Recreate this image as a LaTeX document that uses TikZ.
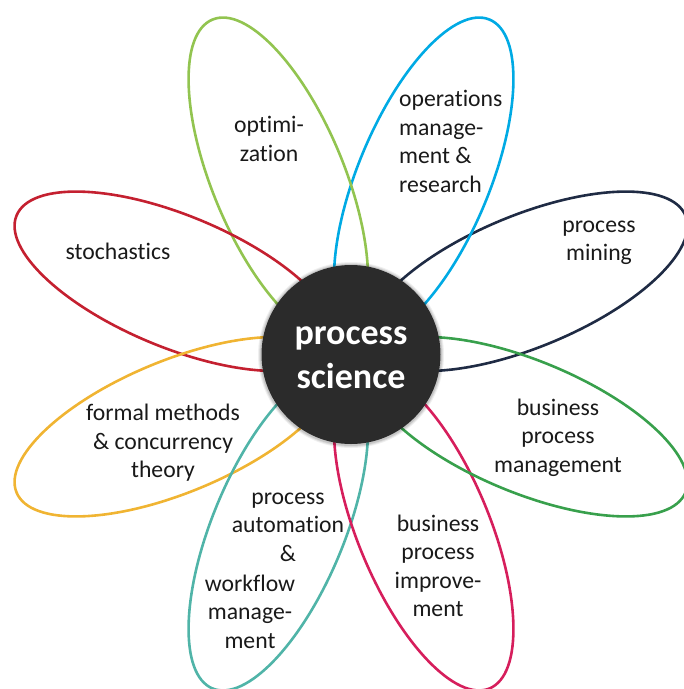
\documentclass[tikz,border=0pt]{standalone}
\usepackage{fontspec}
\setmainfont{Carlito}[Ligatures={NoCommon,NoContextual}]
\definecolor{navyc}{RGB}{31,43,68}
\definecolor{bluec}{RGB}{0,170,228}
\definecolor{greenl}{RGB}{146,196,80}
\definecolor{redc}{RGB}{196,32,48}
\definecolor{yellowc}{RGB}{240,180,50}
\definecolor{tealc}{RGB}{80,180,168}
\definecolor{crimc}{RGB}{214,30,92}
\definecolor{greend}{RGB}{56,160,76}
\definecolor{corec}{RGB}{43,43,43}
\begin{document}
\begin{tikzpicture}[x=1pt,y=-1pt,
  petal/.style={line width=2.6pt},
  lbl/.style={font=\fontsize{23.7}{28.5}\selectfont, align=center, inner sep=0pt, text=black!90}]
\useasboundingbox (0,0) rectangle (684,689);
\foreach \ang/\col in {22.5/navyc,67.5/bluec,112.5/greenl,157.5/redc,202.5/yellowc,247.5/tealc,292.5/crimc,337.5/greend}{
  \draw[petal, draw=\col, shift={({351+190*cos(\ang)},{354-190*sin(\ang)})}, rotate=\ang] (0,0) ellipse [x radius=172, y radius=66];
}
\foreach \r/\o in {93/0.06,92/0.08,91/0.1}{
  \fill[black, opacity=\o] (351,355) circle [radius=\r];
}
\node[circle, fill=corec, minimum size=179pt, inner sep=0pt] (core) at (351,354.5) {};
\node[text=white, align=center, inner sep=0pt,
  font=\fontsize{36}{43.5}\selectfont\bfseries] (coretext) at (351,357.5) {process\\science};
\node[lbl] (opt) at (269,139) {optimi-\\zation};
\node[lbl, align=left, anchor=west] (ops) at (399,141.5) {operations\\manage-\\ment \&\\research};
\node[lbl] (mining) at (599,243) {process\\mining};
\node[lbl] (stoch) at (118,251) {stochastics};
\node[lbl] (formal) at (163,443) {formal methods\\\& concurrency\\theory};
\node[lbl] (auto1) at (288,527) {process\\automation\\\&};
\node[lbl] (auto2) at (250,611.5) {workflow\\manage-\\ment};
\node[lbl] (impr) at (438,566) {business\\process\\improve-\\ment};
\node[lbl] (bpm) at (558,437.5) {business\\process\\management};
\end{tikzpicture}
\end{document}
